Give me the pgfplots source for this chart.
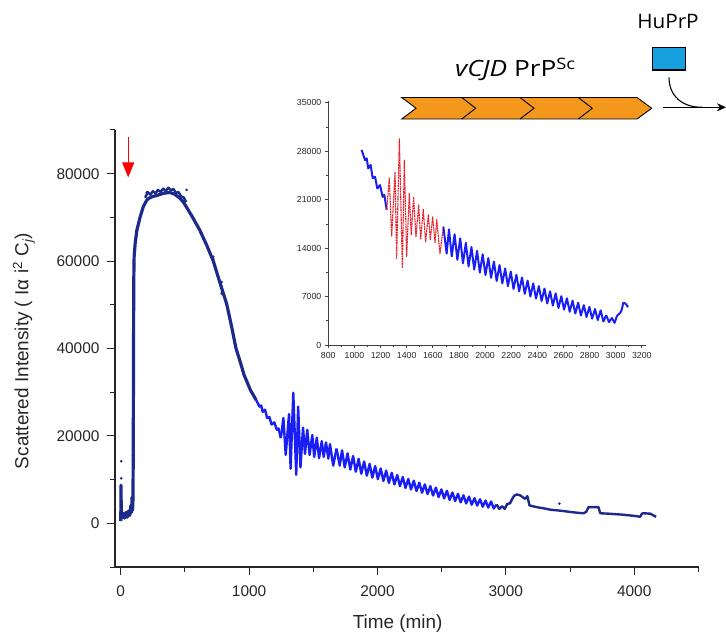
\documentclass[border=0pt]{standalone}
\usepackage{pgfplots}
\pgfplotsset{compat=1.18}
\usepackage{pgfplotstable}
\usepackage{graphicx}
\usepackage{fontspec}
\setmainfont{Liberation Sans}
\newfontfamily\annfont{Open Sans}
\usetikzlibrary{arrows.meta}

\definecolor{navy}{RGB}{28,42,140}
\definecolor{brblue}{RGB}{25,30,245}
\definecolor{insred}{RGB}{225,35,45}
\definecolor{chevorange}{RGB}{243,152,28}
\definecolor{boxblue}{RGB}{22,160,224}

\pgfplotstableread{
x y
0 500
2 8700
4 1500
10 2500
15 1300
22 2200
30 1200
40 2500
50 1400
60 2800
70 1800
78 4000
84 2500
88 6000
92 3000
95 5500
97 15000
99 35000
101 55000
104 61000
112 64000
125 67000
150 70000
176 72500
200 73800
214 74300
250 74800
280 75000
330 75500
383 75700
420 75300
461 74400
490 73400
513 72300
560 70000
617 67000
670 63600
721 60000
770 55300
825 50200
860 45500
898 40000
930 37000
960 34000
1010 30500
1055 28170
}\tabA

\pgfplotstableread{
x y
190 74500
210 75800
230 75200
250 76000
270 75500
290 76300
310 75800
330 76600
350 76000
370 76800
390 76200
410 76500
430 75600
450 75800
470 74800
490 74600
510 73500
}\tabAtop

\pgfplotstableread{
x y
1055 28170
1068 27450
1081 26700
1094 26960
1106 25500
1124 26000
1140 24100
1158 24300
1175 22600
1196 23100
1216 21400
1229 21700
1247 19500
}\tabB

\pgfplotstableread{
x y
1247 19500
1267 24100
1285 15650
1311 25000
1323 12500
1344 29850
1367 11100
1382 26700
1400 12800
1420 21900
1435 15900
1453 21400
1471 15650
1492 20200
1507 15200
1527 19600
1545 14900
1566 18800
1581 15200
1599 18500
1617 14800
1630 18100
1655 13200
1681 17090
}\tabC

\pgfplotstableread{
x y
1681 17090
1706 13200
1724 16700
1745 12800
1767 16000
1788 12300
1810 15400
1831 11800
1853 14750
1874 11350
1896 14150
1917 10900
1939 13600
1960 10450
1982 13100
2003 10100
2025 12550
2046 9700
2068 12050
2089 9250
2111 11550
2132 8900
2154 11050
2175 8500
2197 10600
2218 8100
2240 10150
2261 7750
2283 9750
2304 7400
2326 9300
2347 7000
2369 8900
2390 6700
2412 8500
2433 6350
2455 8150
2476 6000
2498 7750
2519 5700
2541 7450
2562 5350
2584 7050
2605 5100
2627 6750
2648 4800
2670 6400
2691 4550
2713 6100
2734 4250
2756 5750
2777 4050
2799 5500
2820 3800
2842 5200
2863 3600
2885 5000
2906 3400
2928 4300
}\tabD

\pgfplotstableread{
x y
2928 4300
2949 3300
2971 3900
2992 3200
3010 4200
3033 4600
3045 5000
3059 6100
3075 6000
3090 5600
3097 5500
}\tabDend

\pgfplotstableread{
x y
2928 4300
2949 3300
2971 3900
2992 3300
3010 4400
3033 4600
3050 5600
3065 6300
3085 6600
3111 6400
3130 6000
3150 5600
3168 6200
3184 4100
3210 3900
3241 3700
3300 3400
3350 3100
3397 2970
3450 2800
3500 2600
3560 2400
3605 2300
3625 2600
3631 2900
3644 3700
3722 3700
3735 2300
3800 2200
3900 2000
4000 1700
4047 1500
4060 2200
4073 2300
4125 2200
4150 1800
4171 1500
}\tabE

\begin{document}
\begin{tikzpicture}
\useasboundingbox (0,0) rectangle (726bp,634bp);
\begin{axis}[
  at={(115bp,67bp)}, anchor=south west, scale only axis,
  width=584bp, height=437bp,
  xmin=-45, xmax=4505, ymin=-10000, ymax=90000,
  axis lines*=left,
  axis line style={line width=1.1pt, color=black!85},
  tick align=outside, major tick length=8bp, minor tick length=5bp,
  xtick={0,1000,2000,3000,4000}, minor xtick={500,1500,2500,3500,4500},
  ytick={0,20000,40000,60000,80000},
  minor ytick={-10000,10000,30000,50000,70000,90000},
  tick style={line width=1pt, color=black!85},
  scaled ticks=false,
  /pgf/number format/1000 sep={}, /pgf/number format/assume math mode=true,
  tick label style={font=\fontsize{15.5}{18}\selectfont, color=black!85},
  xticklabel style={yshift=-7bp},
  yticklabel style={xshift=-4bp},
  xlabel={Time (min)},
  ylabel={Scattered Intensity ( Iα i\textsuperscript{2} C\textsubscript{\itshape j})},
  label style={font=\fontsize{19}{22}\selectfont, color=black!85},
  xlabel style={at={(axis description cs:0.484,-0.140)}, anchor=base},
  ylabel style={at={(axis description cs:-0.156,0.494)}, anchor=center},
]
\addplot[navy, line width=3.2pt, line join=round] table {\tabA};
\addplot[navy, line width=2.4pt, line join=round] table {\tabAtop};
\addplot[brblue, line width=2.4pt, line join=round] table {\tabB};
\addplot[brblue, line width=2.4pt, line join=round] table {\tabC};
\addplot[brblue, line width=2.4pt, line join=round] table {\tabD};
\addplot[navy, line width=2.4pt, line join=round] table {\tabE};
\addplot[navy, only marks, mark=*, mark size=1.1pt] coordinates {
(3,14200) (3,10300) (95,14600) (95,15500) (202,75700) (513,76300)
(721,61000) (721,60500) (786,55200) (786,54200) (786,52600) (3418,4500)};
\draw[red, line width=1.1pt, -{Triangle[width=12bp,length=15bp]}]
  (axis cs:58,88300) -- (axis cs:58,79150);
\end{axis}

\begin{axis}[
  at={(328.3bp,289bp)}, anchor=south west, scale only axis,
  width=317.4bp, height=244.4bp,
  xmin=800, xmax=3230, ymin=0, ymax=35300,
  axis lines*=left,
  axis line style={line width=0.6pt, color=black!75},
  tick align=outside, major tick length=3.5bp, minor tick length=2bp,
  xtick={800,1000,...,3200}, minor xtick={900,1100,...,3100},
  ytick={0,7000,...,35000}, minor ytick={3500,10500,...,31500},
  tick style={line width=0.6pt, color=black!75},
  scaled ticks=false,
  /pgf/number format/1000 sep={}, /pgf/number format/assume math mode=true,
  tick label style={font=\fontsize{8.8}{10}\selectfont, color=black!85},
]
\addplot[brblue, line width=2pt, line join=round] table {\tabB};
\addplot[insred, line width=1.1pt, line join=round, dash pattern=on 2pt off 0.6pt] table {\tabC};
\addplot[brblue, line width=2pt, line join=round] table {\tabD};
\addplot[brblue, line width=2pt, line join=round] table {\tabDend};
\end{axis}

% schematic
\filldraw[fill=chevorange, draw=black, line width=0.9bp, line join=miter]
  (401.7bp,536.5bp) -- (637bp,536.5bp) -- (651.7bp,525.75bp) -- (637bp,515bp)
  -- (401.7bp,515bp) -- (416bp,525.75bp) -- cycle;
\foreach \xb in {461.7,520,578.3}{
  \draw[black, line width=0.9bp] (\xb bp,536.5bp) -- (\xb bp+14bp,525.75bp) -- (\xb bp,515bp);
}
\node[anchor=base west, inner sep=0pt, font=\annfont\fontsize{22.5}{26}\selectfont]
  at (455bp,557.3bp) {\scalebox{1.17}[1]{\textit{vCJD} PrP\textsuperscript{Sc}}};
\node[anchor=base, inner sep=0pt, font=\annfont\fontsize{20}{24}\selectfont]
  at (668bp,605.7bp) {\scalebox{1.04}[1]{HuPrP}};
\filldraw[fill=boxblue, draw=black, line width=1.2bp] (652.3bp,564bp) rectangle (685.7bp,586.3bp);
\draw[black, line width=1.1bp] (669bp,556.7bp) .. controls (669bp,538bp) and (682bp,526.7bp) .. (702bp,526.7bp);
\draw[black, line width=1.1bp, -{Stealth[length=9bp,width=8bp]}] (663.3bp,526.7bp) -- (726bp,526.7bp);
\end{tikzpicture}
\end{document}
